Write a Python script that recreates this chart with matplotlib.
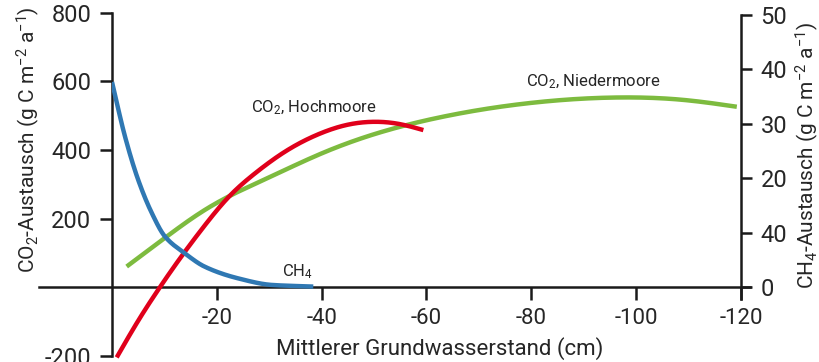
import matplotlib
matplotlib.use('Agg')
import matplotlib.pyplot as plt
import numpy as np

FONT = 'Roboto'
plt.rcParams['font.family'] = [FONT, 'DejaVu Sans']
plt.rcParams['mathtext.fontset'] = 'custom'
plt.rcParams['mathtext.rm'] = FONT
plt.rcParams['mathtext.it'] = FONT

TEXT = '#262626'
AXIS = '#1a1a1a'

# water table depth (cm) and fluxes
ch4_x = [0, -2.5, -5.0, -7.6, -10.1, -13.9, -17.7, -24.1, -30.5, -38.4]
ch4_y = [37.7, 27.6, 19.7, 13.6, 9.3, 6.2, 3.75, 1.6, 0.4, 0.1]

hoch_x = [-0.9, -5.0, -8.8, -13.6, -17.7, -22.2, -27.3, -33.0, -39.4, -44.5, -49.6, -54.7, -59.4]
hoch_y = [-205, -98, -8, 97, 180, 262, 332, 395, 446, 472, 482, 476, 458]

nieder_x = [-2.8, -10.4, -17.7, -30.5, -40.0, -49.6, -61.6, -80.4, -96.3, -109.0, -119.2]
nieder_y = [60, 147, 225, 324, 390, 444, 492, 538, 553, 546, 526]

x_ticks = [-20, -40, -60, -80, -100, -120]
left_ticks = [800, 600, 400, 200, -200]
right_ticks = [0, 10, 20, 30, 40, 50]
right_labels = ['0', '40', '20', '30', '40', '50']


def pchip(xs, ys, n=300):
    # monotone cubic hermite through the read points (x sorted ascending)
    xs = np.asarray(xs, float)[::-1]
    ys = np.asarray(ys, float)[::-1]
    h = np.diff(xs)
    d = np.diff(ys) / h
    m = np.zeros_like(xs)
    for k in range(1, len(xs) - 1):
        if d[k - 1] * d[k] > 0:
            w1 = 2 * h[k] + h[k - 1]
            w2 = h[k] + 2 * h[k - 1]
            m[k] = (w1 + w2) / (w1 / d[k - 1] + w2 / d[k])
    m[0] = d[0]
    m[-1] = d[-1]
    t = np.linspace(xs[0], xs[-1], n)
    i = np.clip(np.searchsorted(xs, t) - 1, 0, len(h) - 1)
    s = (t - xs[i]) / h[i]
    h00 = 2 * s**3 - 3 * s**2 + 1
    h10 = s**3 - 2 * s**2 + s
    h01 = -2 * s**3 + 3 * s**2
    h11 = s**3 - s**2
    y = h00 * ys[i] + h10 * h[i] * m[i] + h01 * ys[i + 1] + h11 * h[i] * m[i + 1]
    return t, y


def spline(xs, ys, n=300):
    # natural cubic spline
    xs = np.asarray(xs, float)[::-1]
    ys = np.asarray(ys, float)[::-1]
    nn = len(xs)
    h = np.diff(xs)
    A = np.zeros((nn, nn))
    b = np.zeros(nn)
    A[0, 0] = A[-1, -1] = 1
    for k in range(1, nn - 1):
        A[k, k - 1] = h[k - 1]
        A[k, k] = 2 * (h[k - 1] + h[k])
        A[k, k + 1] = h[k]
        b[k] = 6 * ((ys[k + 1] - ys[k]) / h[k] - (ys[k] - ys[k - 1]) / h[k - 1])
    M = np.linalg.solve(A, b)
    t = np.linspace(xs[0], xs[-1], n)
    i = np.clip(np.searchsorted(xs, t) - 1, 0, nn - 2)
    a = xs[i + 1] - t
    c = t - xs[i]
    y = (M[i] * a**3 + M[i + 1] * c**3) / (6 * h[i]) \
        + (ys[i] / h[i] - M[i] * h[i] / 6) * a \
        + (ys[i + 1] / h[i] - M[i + 1] * h[i] / 6) * c
    return t, y


fig = plt.figure(figsize=(8.2, 3.62), dpi=100)
ax = fig.add_axes([112 / 820, 1 - 355.7 / 362, (741 - 112) / 820, (355.7 - 12.8) / 362])
ax2 = ax.twinx()

ax.set_xlim(0, -120)
ax.set_ylim(-200, 800)
ax2.set_ylim(-200 / 15.87, 800 / 15.87)

ax.patch.set_visible(False)
for s in ['top', 'right']:
    ax.spines[s].set_visible(False)
for s in ['top', 'left', 'bottom']:
    ax2.spines[s].set_visible(False)

ax.spines['left'].set_linewidth(1.8)
ax.spines['left'].set_color(AXIS)
ax.spines['bottom'].set_position(('data', 0))
ax.spines['bottom'].set_bounds(14, -121.7)
ax.spines['bottom'].set_linewidth(1.8)
ax.spines['bottom'].set_color(AXIS)
ax2.spines['right'].set_bounds(-2.2, 50)
ax2.spines['right'].set_linewidth(1.8)
ax2.spines['right'].set_color(AXIS)

ax.set_xticks(x_ticks)
ax.set_xticklabels([str(v) for v in x_ticks])
ax.set_yticks(left_ticks)
ax.set_yticklabels([str(v) for v in left_ticks])
ax2.set_yticks(right_ticks)
ax2.set_yticklabels(right_labels)

ax.tick_params(axis='x', direction='out', length=9, width=1.8, color=AXIS,
               pad=6, labelsize=16, labelcolor=TEXT)
ax.tick_params(axis='y', direction='out', length=9, width=1.8, color=AXIS,
               pad=6, labelsize=17, labelcolor=TEXT)
ax2.tick_params(axis='y', direction='out', length=8, width=1.8, color=AXIS,
                pad=6, labelsize=17, labelcolor=TEXT)

x, y = spline(nieder_x, nieder_y)
ax.plot(x, y, color='#7dbb3f', lw=3.2, solid_capstyle='butt', zorder=3)
x, y = spline(hoch_x, hoch_y)
ax.plot(x, y, color='#e0001b', lw=3.2, solid_capstyle='butt', zorder=4, clip_on=False)
x, y = pchip(ch4_x, ch4_y)
ax2.plot(x, y, color='#2f78b3', lw=3.2, solid_capstyle='butt', zorder=5)

ax.text(-26.5, 522, r'CO$_2$, Hochmoore', fontsize=12, color=TEXT, va='center', ha='left')
ax.text(-79, 598, r'CO$_2$, Niedermoore', fontsize=12, color=TEXT, va='center', ha='left')
ax2.text(-32.5, 1.2, r'CH$_4$', fontsize=12, color=TEXT, va='bottom', ha='left')

fig.text(28 / 820, 1 - 140 / 362, r'CO$_2$-Austausch (g C m$^{-2}$ a$^{-1}$)',
         rotation=90, ha='center', va='center', fontsize=15, color=TEXT)
fig.text(807 / 820, 1 - 155 / 362, r'CH$_4$-Austausch (g C m$^{-2}$ a$^{-1}$)',
         rotation=90, ha='center', va='center', fontsize=15, color=TEXT)
fig.text(440 / 820, 1 - 349 / 362, 'Mittlerer Grundwasserstand (cm)',
         ha='center', va='center', fontsize=16, color=TEXT)

fig.savefig('out.png', dpi=100)
